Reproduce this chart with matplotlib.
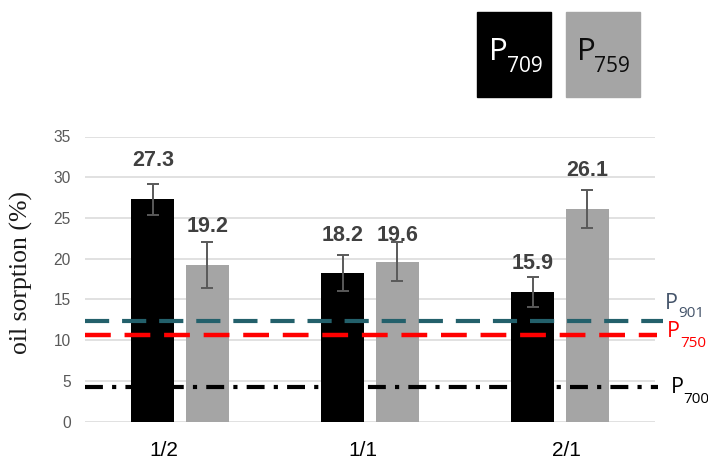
import matplotlib
matplotlib.use("Agg")
import matplotlib.pyplot as plt
from matplotlib.patches import Rectangle
import numpy as np

# Data
categories = ["1/2", "1/1", "2/1"]
p709_values = [27.3, 18.2, 15.9]
p759_values = [19.2, 19.6, 26.1]
p709_err = [1.9, 2.2, 1.8]
p759_err = [2.8, 2.4, 2.3]
ref_p901 = 12.3
ref_p750 = 10.6
ref_p700 = 4.2
y_ticks = [0, 5, 10, 15, 20, 25, 30, 35]

W, H = 708, 463
fig = plt.figure(figsize=(W / 100, H / 100), dpi=100)
ax = fig.add_axes([85 / W, 41.5 / H, 570 / W, 285 / H])


def fx(x):
    return x / W


def fy(y):
    return 1 - y / H


x = np.arange(len(categories))
bw = 0.226
off = 0.143
err_kw = dict(ecolor="#595959", elinewidth=1.4, capsize=4.3, capthick=1.4)
b1 = ax.bar(x - off, p709_values, bw, color="black", yerr=p709_err,
            error_kw=err_kw, zorder=3)
b2 = ax.bar(x + off, p759_values, bw, color="#A5A5A5", yerr=p759_err,
            error_kw=err_kw, zorder=3)

# value labels above the bars
lift_709 = [33, 32, 23]
lift_759 = [33, 21, 33]
for xi, v, d in zip(x - off, p709_values, lift_709):
    ax.annotate(f"{v:.1f}", (xi, v), xytext=(0, d), textcoords="offset pixels",
                ha="center", va="baseline", fontsize=15.5, fontweight="bold",
                color="#404040", family="Liberation Sans", zorder=5)
for xi, v, d in zip(x + off, p759_values, lift_759):
    ax.annotate(f"{v:.1f}", (xi, v), xytext=(0, d), textcoords="offset pixels",
                ha="center", va="baseline", fontsize=15.5, fontweight="bold",
                color="#404040", family="Liberation Sans", zorder=5)

# reference levels
ax.axhline(ref_p901, xmin=0, xmax=1.014, color="#23606B", lw=3,
           dashes=(5.8, 3.1), clip_on=False, zorder=4)
ax.axhline(ref_p750, xmin=0, xmax=1.004, color="#FF0000", lw=3.2,
           dashes=(5.8, 3.1), clip_on=False, zorder=4)
ax.axhline(ref_p700, xmin=0, xmax=1.005, color="black", lw=3,
           dashes=(4.3, 2.2, 1.0, 2.2), clip_on=False, zorder=4)

ax.set_xlim(-0.5, 2.5)
ax.set_ylim(0, 35)
ax.set_yticks(y_ticks)
ax.grid(axis="y", color="#D9D9D9", lw=1.1, zorder=0)
ax.set_axisbelow(True)
for s in ax.spines.values():
    s.set_visible(False)
ax.tick_params(axis="y", length=0, pad=10.3, labelsize=11.2,
               labelcolor="#595959")
for lab in ax.get_yticklabels():
    lab.set_family("Liberation Sans")

# category labels
ax.set_xticks(x)
ax.set_xticklabels([""] * len(categories))
ax.tick_params(axis="x", length=0)
nudge = [-16, -7, 6]
for xi, c, d in zip(x, categories, nudge):
    ax.annotate(c, (xi, 0), xycoords=("data", "axes fraction"),
                xytext=(d, -29), textcoords="offset pixels", ha="center",
                va="center", fontsize=15,
                family=["Liberation Sans Narrow", "Liberation Sans"],
                color="black")

fig.text(fx(21), fy(272), "oil sorption (%)", rotation=90, ha="center",
         va="center", fontsize=18.5, family="Liberation Serif", color="#1a1a1a")

# series key boxes
fig.add_artist(Rectangle((fx(477), fy(97)), 74 / W, 85 / H, color="black",
                         transform=fig.transFigure))
fig.add_artist(Rectangle((fx(566), fy(97)), 74 / W, 85 / H, color="#A5A5A5",
                         transform=fig.transFigure))
fig.text(fx(489), fy(60), "P", fontsize=22.5, color="white",
         family="Open Sans", va="baseline", ha="left")
fig.text(fx(507), fy(71.5), "709", fontsize=15, color="white",
         family="Open Sans", va="baseline", ha="left")
fig.text(fx(577), fy(60), "P", fontsize=22.5, color="#0d0d0d",
         family="Open Sans", va="baseline", ha="left")
fig.text(fx(594), fy(71.5), "759", fontsize=15, color="#0d0d0d",
         family="Open Sans", va="baseline", ha="left")

# reference level names
ref_names = [("901", "#44546A", 665, 309, 678, 317),
             ("750", "#FF0000", 667, 337, 680, 347),
             ("700", "black", 671, 393, 683, 403)]
for sub, col, px_, py_, sx, sy in ref_names:
    fig.text(fx(px_), fy(py_), "P", fontsize=15.5, color=col,
             family="Open Sans", va="baseline", ha="left")
    fig.text(fx(sx), fy(sy), sub, fontsize=11, color=col,
             family="Open Sans", va="baseline", ha="left")

fig.savefig("out.png", dpi=100)
